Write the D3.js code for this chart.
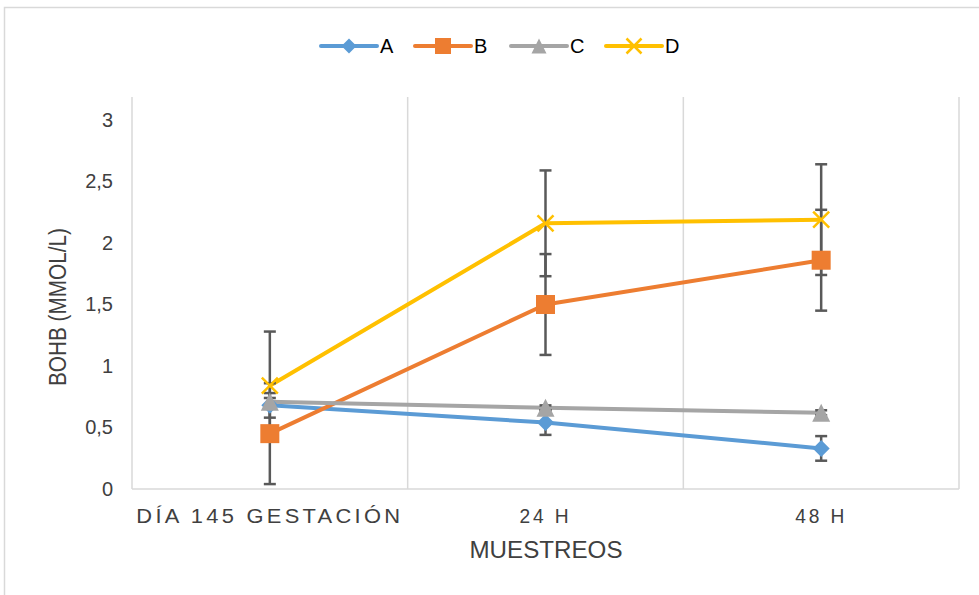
<!DOCTYPE html>
<html><head><meta charset="utf-8">
<script src="https://d3js.org/d3.v7.min.js"></script>
<style>body{margin:0;background:#fff}svg{display:block}</style>
</head><body><svg id="c" width="979" height="595"></svg>
<script>
const categories = ["DÍA 145 GESTACIÓN", "24 H", "48 H"];
const seriesNames = ["A", "B", "C", "D"];
const valuesA = [0.68, 0.54, 0.33];
const valuesB = [0.45, 1.50, 1.86];
const valuesC = [0.71, 0.66, 0.62];
const valuesD = [0.84, 2.16, 2.19];
const errA = [0.10, 0.10, 0.10];
const errB = [0.41, 0.41, 0.41];
const errC = [0.03, 0.02, 0.02];
const errD = [0.44, 0.43, 0.45];
const yTicks = [0, 0.5, 1, 1.5, 2, 2.5, 3];
const yTickLabels = ["0", "0,5", "1", "1,5", "2", "2,5", "3"];
const xTitle = "MUESTREOS";
const yTitle = "BOHB (MMOL/L)";

const colors = {A: "#5B9BD5", B: "#ED7D31", C: "#A5A5A5", D: "#FFC000"};
const shapes = {A: "diamond", B: "square", C: "triangle", D: "x"};
const series = [
  {name: "A", values: valuesA, err: errA},
  {name: "B", values: valuesB, err: errB},
  {name: "C", values: valuesC, err: errC},
  {name: "D", values: valuesD, err: errD}
];

const svg = d3.select("#c");
const font = "'Liberation Sans', Arial, sans-serif";
const L = 132, R = 959, B = 489, T = 97;

// chart border
svg.append("rect").attr("x", 4.5).attr("y", 7.5).attr("width", 1000).attr("height", 700)
  .attr("fill", "#fff").attr("stroke", "#d9d9d9").attr("stroke-width", 1.5);

const x = d3.scaleBand().domain(categories).range([L, R]);
const cx = c => x(c) + x.bandwidth() / 2;
const y = d3.scaleLinear().domain([0, 3]).range([B, 120]);

// vertical gridlines at category boundaries
const bounds = categories.map(c => x(c)).concat([R]);
svg.append("g").selectAll("line").data(bounds).join("line")
  .attr("x1", d => d).attr("x2", d => d).attr("y1", T).attr("y2", B)
  .attr("stroke", "#d9d9d9").attr("stroke-width", 1.5);
svg.append("line").attr("x1", L).attr("x2", R).attr("y1", B).attr("y2", B)
  .attr("stroke", "#d9d9d9").attr("stroke-width", 1.5);

// y axis
const yAxis = svg.append("g").attr("transform", `translate(${L},0)`)
  .call(d3.axisLeft(y).tickValues(yTicks).tickFormat((d, i) => yTickLabels[i]).tickSize(0).tickPadding(19));
yAxis.select(".domain").remove();
yAxis.selectAll("text").attr("font-family", font).attr("font-size", 20).attr("fill", "#404040");

// x axis
const xAxis = svg.append("g").attr("transform", `translate(0,${B})`)
  .call(d3.axisBottom(x).tickSize(0).tickPadding(20));
xAxis.select(".domain").remove();
const xWidths = {"DÍA 145 GESTACIÓN": 267, "24 H": 52, "48 H": 52};
xAxis.selectAll("text").attr("font-family", font).attr("font-size", 20).attr("fill", "#404040")
  .attr("letter-spacing", 3)
  .attr("textLength", d => xWidths[d]).attr("lengthAdjust", "spacingAndGlyphs");

// axis titles
svg.append("text").attr("x", 546).attr("y", 558).attr("text-anchor", "middle")
  .attr("font-family", font).attr("font-size", 23).attr("fill", "#404040")
  .attr("textLength", 153).attr("lengthAdjust", "spacingAndGlyphs").text(xTitle);
svg.append("text").attr("transform", "translate(66,307) rotate(-90)").attr("text-anchor", "middle")
  .attr("font-family", font).attr("font-size", 23).attr("fill", "#404040")
  .attr("textLength", 158).attr("lengthAdjust", "spacingAndGlyphs").text(yTitle);

// lines
const line = d3.line().x((d, i) => cx(categories[i])).y(d => y(d));
svg.append("g").selectAll("path").data(series).join("path")
  .attr("d", s => line(s.values)).attr("fill", "none")
  .attr("stroke", s => colors[s.name]).attr("stroke-width", 4).attr("stroke-linejoin", "round");

// error bars
const eb = svg.append("g").attr("stroke", "#595959").attr("stroke-width", 2.5);
series.forEach(s => {
  s.values.forEach((v, i) => {
    const px = cx(categories[i]);
    const lo = y(v - s.err[i]), hi = y(v + s.err[i]);
    eb.append("line").attr("x1", px).attr("x2", px).attr("y1", lo).attr("y2", hi);
    eb.append("line").attr("x1", px - 6).attr("x2", px + 6).attr("y1", lo).attr("y2", lo);
    eb.append("line").attr("x1", px - 6).attr("x2", px + 6).attr("y1", hi).attr("y2", hi);
  });
});

function marker(g, shape, color, px, py, s) {
  if (shape === "diamond") {
    g.append("path").attr("d", `M${px},${py - s / 2}L${px + s / 2},${py}L${px},${py + s / 2}L${px - s / 2},${py}Z`).attr("fill", color);
  } else if (shape === "square") {
    g.append("rect").attr("x", px - s / 2).attr("y", py - s / 2).attr("width", s).attr("height", s).attr("fill", color);
  } else if (shape === "triangle") {
    g.append("path").attr("d", `M${px},${py - s / 2}L${px + s / 2},${py + s / 2}L${px - s / 2},${py + s / 2}Z`).attr("fill", color);
  } else {
    const h = s / 2;
    g.append("path").attr("d", `M${px - h},${py - h}L${px + h},${py + h}M${px - h},${py + h}L${px + h},${py - h}`)
      .attr("stroke", color).attr("stroke-width", 2.5).attr("fill", "none");
  }
}
const sizes = {A: 17, B: 19, C: 18, D: 16};
const mg = svg.append("g");
series.forEach(s => {
  s.values.forEach((v, i) => marker(mg, shapes[s.name], colors[s.name], cx(categories[i]), y(v), sizes[s.name]));
});

// legend
const lg = svg.append("g");
const legX = [321, 415, 511, 606];
const legY = 46;
seriesNames.forEach((n, i) => {
  const x0 = legX[i];
  lg.append("line").attr("x1", x0).attr("x2", x0 + 56).attr("y1", legY).attr("y2", legY)
    .attr("stroke", colors[n]).attr("stroke-width", 4).attr("stroke-linecap", "round");
  marker(lg, shapes[n], colors[n], x0 + 28, legY, n === "B" ? 16 : 15);
  lg.append("text").attr("x", x0 + 59).attr("y", legY + 7).attr("font-family", font).attr("font-size", 20)
    .attr("fill", "#000").text(n);
});
</script>
</body></html>
